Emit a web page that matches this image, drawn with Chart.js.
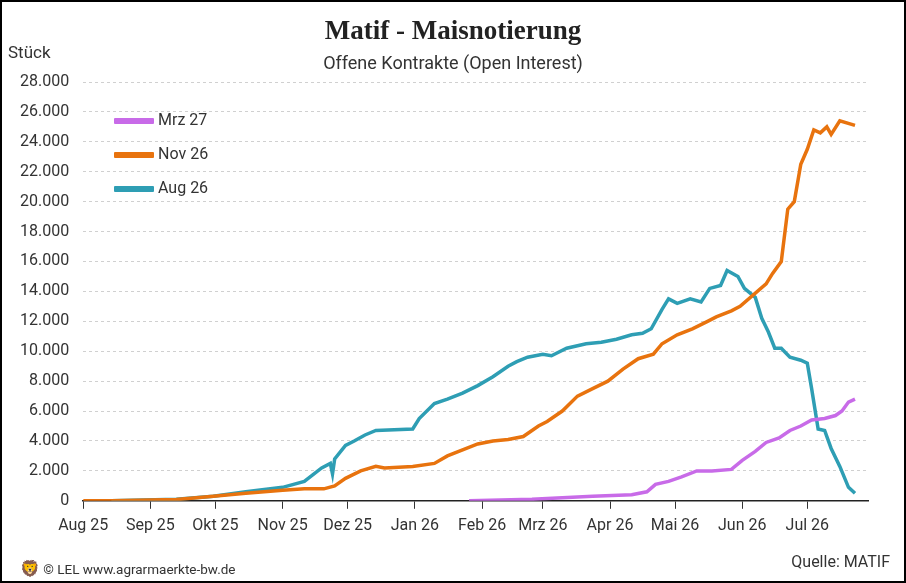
<!DOCTYPE html>
<html><head><meta charset="utf-8">
<script src="https://cdn.jsdelivr.net/npm/chart.js@4"></script>
<style>
html,body{margin:0;padding:0;background:#fff;}
#wrap{position:relative;width:902px;height:579px;border:2px solid #000;font-family:Roboto,sans-serif;color:#222;overflow:hidden}
#c{position:absolute;left:0;top:0}
.t{position:absolute;white-space:nowrap}
.lg{position:absolute;left:112px;font-size:16px;color:#333}
.lg span{display:inline-block;width:40px;height:6px;vertical-align:middle;margin-right:4px;border-radius:1px}
</style></head><body>
<div id="wrap">
<canvas id="c" width="902" height="579"></canvas>
<div class="t" style="left:0;width:902px;top:13px;text-align:center;font-family:'Liberation Serif',serif;font-weight:bold;font-size:27px;color:#222">Matif - Maisnotierung</div>
<div class="t" style="left:0;width:902px;top:50px;text-align:center;font-size:18px;color:#333">Offene Kontrakte (Open Interest)</div>
<div class="t" style="left:6px;top:40px;font-size:17px;color:#333">Stück</div>
<div class="lg" style="top:108px"><span style="background:#c86be8"></span>Mrz 27</div>
<div class="lg" style="top:142px"><span style="background:#e8730e"></span>Nov 26</div>
<div class="lg" style="top:176px"><span style="background:#2e9eb4"></span>Aug 26</div>
<div class="t" style="left:18px;top:557px;font-size:13.5px;color:#333"><span style="font-size:16px">🦁</span> © LEL www.agrarmaerkte-bw.de</div>
<div class="t" style="right:14px;top:550px;font-size:16px;color:#333">Quelle: MATIF</div>
</div>
<script>
// day offsets since 1 Aug 2025
const monthTicks=[0,31,61,92,122,153,184,212,243,273,304,334];
const monthLabels=["Aug 25","Sep 25","Okt 25","Nov 25","Dez 25","Jan 26","Feb 26","Mrz 26","Apr 26","Mai 26","Jun 26","Jul 26"];
const augDays=[13,43,60,75,92,102,110,114,115,116,121,125,130,135,152,155,162,168,175,182,189,196,200,205,212,216,223,232,239,246,253,258,262,267,270,274,280,285,289,294,297,302,305,310,313,316,319,322,326,331,334,336,339,342,345,349,353,356];
const augVals=[0,100,300,600,900,1300,2200,2500,1800,2800,3700,4000,4400,4700,4800,5500,6500,6800,7200,7700,8300,9000,9300,9600,9800,9700,10200,10500,10600,10800,11100,11200,11500,12800,13500,13200,13500,13300,14200,14400,15400,15000,14200,13600,12200,11300,10200,10200,9600,9400,9200,7500,4800,4700,3500,2300,900,500];
const novDays=[0,13,43,60,75,92,102,111,116,121,128,135,139,152,162,168,175,182,189,196,203,210,214,221,228,235,242,249,256,263,267,274,281,288,292,299,303,315,318,322,325,328,331,334,337,340,343,345,349,356];
const novVals=[0,0,80,300,500,700,800,800,1000,1500,2000,2300,2200,2300,2500,3000,3400,3800,4000,4100,4300,5000,5300,6000,7000,7500,8000,8800,9500,9800,10500,11100,11500,12000,12300,12700,13000,14500,15200,16000,19500,20000,22500,23500,24800,24600,25000,24500,25400,25100];
const mrzDays=[178,207,221,235,253,260,264,270,276,283,290,299,304,310,315,321,326,331,336,342,347,350,353,356];
const mrzVals=[0,100,200,300,400,600,1100,1300,1600,2000,2000,2100,2700,3300,3900,4200,4700,5000,5400,5500,5700,6000,6600,6800];
const toPts=(d,v)=>d.map((x,i)=>({x,y:v[i]}));
new Chart(document.getElementById('c'),{type:'line',
data:{datasets:[
{label:'Mrz 27',data:toPts(mrzDays,mrzVals),borderColor:'#c86be8'},
{label:'Nov 26',data:toPts(novDays,novVals),borderColor:'#e8730e'},
{label:'Aug 26',data:toPts(augDays,augVals),borderColor:'#2e9eb4'}]},
options:{responsive:false,animation:false,
elements:{point:{radius:0},line:{borderWidth:3.5,tension:0}},
layout:{padding:{left:4,right:36,top:80,bottom:37}},
plugins:{legend:{display:false},tooltip:{enabled:false}},
scales:{
x:{type:'linear',min:0,max:362,
 afterBuildTicks:s=>{s.ticks=monthTicks.map(v=>({value:v}));},
 ticks:{autoSkip:false,maxRotation:0,padding:8,color:'#333',font:{family:'Roboto',size:16},
  callback:(v)=>monthLabels[monthTicks.indexOf(v)]},
 grid:{drawOnChartArea:false,drawTicks:true,tickLength:8,color:'#333'},border:{color:'#222',width:1.5}},
y:{min:0,max:28000,ticks:{stepSize:2000,color:'#333',font:{family:'Roboto',size:16},padding:14,
  callback:v=>v.toLocaleString('de-DE')},
 grid:{color:'#d0d0d0',drawTicks:false,lineWidth:1},border:{display:false,dash:[3,3]}}
}}});
</script>
</body></html>
